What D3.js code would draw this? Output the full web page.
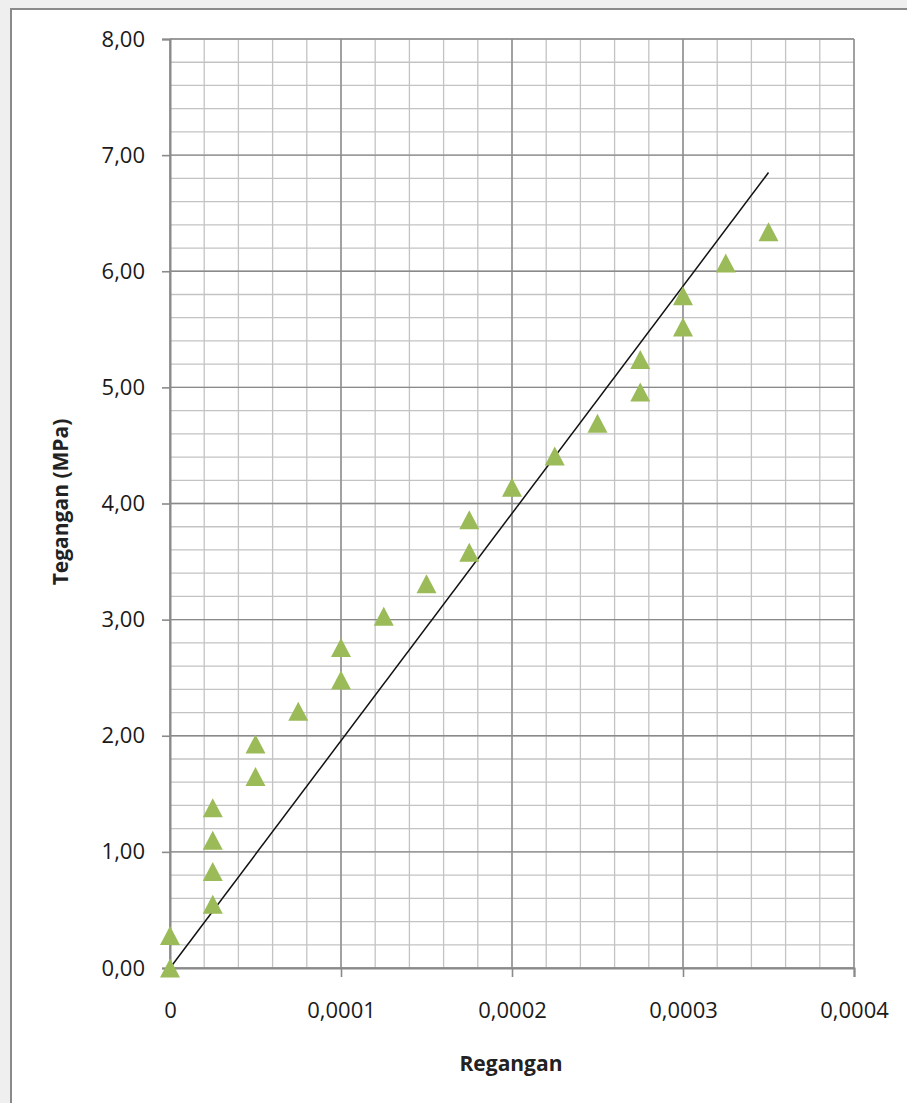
<!DOCTYPE html>
<html>
<head>
<meta charset="utf-8">
<script src="https://cdn.jsdelivr.net/npm/d3@7/dist/d3.min.js"></script>
<style>
  html, body { margin: 0; padding: 0; background: #efefef; }
  svg { display: block; }
</style>
</head>
<body>
<svg id="chart" width="907" height="1103"></svg>
<script>
// Stress–strain test readings
const strain = [0, 0, 0.000025, 0.000025, 0.000025, 0.000025, 0.00005, 0.00005,
  0.000075, 0.0001, 0.0001, 0.000125, 0.00015, 0.000175, 0.000175, 0.0002,
  0.000225, 0.00025, 0.000275, 0.000275, 0.0003, 0.0003, 0.000325, 0.00035];
const stress = [0.00, 0.28, 0.55, 0.83, 1.10, 1.38, 1.65, 1.93,
  2.21, 2.48, 2.76, 3.03, 3.31, 3.58, 3.86, 4.14,
  4.41, 4.69, 4.96, 5.24, 5.52, 5.79, 6.07, 6.34];

// Linear fit through the origin
const fitStrain = [0, 0.00035];
const fitStress = [0, 6.85];

const xTicks = [0, 0.0001, 0.0002, 0.0003, 0.0004];
const xTickLabels = ["0", "0,0001", "0,0002", "0,0003", "0,0004"];
const yTicks = [0, 1, 2, 3, 4, 5, 6, 7, 8];
const yTickLabels = ["0,00", "1,00", "2,00", "3,00", "4,00", "5,00", "6,00", "7,00", "8,00"];
const xMinor = d3.range(0, 21).map(i => i * 0.00002);
const yMinor = d3.range(0, 41).map(i => i * 0.2);

const xTitle = "Regangan";
const yTitle = "Tegangan (MPa)";

const svg = d3.select("#chart");

// chart frame
svg.append("rect").attr("x", 11).attr("y", 9).attr("width", 907).attr("height", 1103)
  .attr("fill", "#ffffff").attr("stroke", "#8a8a8a").attr("stroke-width", 2);

const plotL = 170, plotR = 854, plotT = 39, plotB = 968;
const x = d3.scaleLinear().domain([0, 0.0004]).range([plotL, plotR]);
const y = d3.scaleLinear().domain([0, 8]).range([plotB, plotT]);

const font = "'Open Sans', 'DejaVu Sans', sans-serif";

// minor grid
const g = svg.append("g");
g.selectAll("line.vmin").data(xMinor).join("line").attr("class", "vmin")
  .attr("x1", d => x(d)).attr("x2", d => x(d)).attr("y1", plotT).attr("y2", plotB)
  .attr("stroke", "#c3c3c3").attr("stroke-width", 1.3);
g.selectAll("line.hmin").data(yMinor).join("line").attr("class", "hmin")
  .attr("y1", d => y(d)).attr("y2", d => y(d)).attr("x1", plotL).attr("x2", plotR)
  .attr("stroke", "#c3c3c3").attr("stroke-width", 1.3);

// major grid
g.selectAll("line.vmaj").data(xTicks).join("line").attr("class", "vmaj")
  .attr("x1", d => x(d)).attr("x2", d => x(d)).attr("y1", plotT).attr("y2", plotB)
  .attr("stroke", "#8a8a8a").attr("stroke-width", 1.4);
g.selectAll("line.hmaj").data(yTicks).join("line").attr("class", "hmaj")
  .attr("y1", d => y(d)).attr("y2", d => y(d)).attr("x1", plotL).attr("x2", plotR)
  .attr("stroke", "#8a8a8a").attr("stroke-width", 1.4);

// axes
const xAxis = d3.axisBottom(x).tickValues(xTicks)
  .tickFormat((d, i) => xTickLabels[i]).tickSize(9).tickPadding(25);
const yAxis = d3.axisLeft(y).tickValues(yTicks)
  .tickFormat((d, i) => yTickLabels[i]).tickSize(8).tickPadding(17);

const gx = svg.append("g").attr("transform", `translate(0,${plotB})`).call(xAxis);
const gy = svg.append("g").attr("transform", `translate(${plotL},0)`).call(yAxis);
[gx, gy].forEach(a => {
  a.select(".domain").attr("stroke", "#8a8a8a").attr("stroke-width", 2);
  a.selectAll(".tick line").attr("stroke", "#8a8a8a").attr("stroke-width", 1.6);
  a.selectAll(".tick text").attr("fill", "#1a1a1a").style("font-family", font).style("font-size", "22px");
});

// fit line
svg.append("line")
  .attr("x1", x(fitStrain[0])).attr("y1", y(fitStress[0]))
  .attr("x2", x(fitStrain[1])).attr("y2", y(fitStress[1]))
  .attr("stroke", "#111").attr("stroke-width", 1.5);

// triangle markers, centred on their bounding box
const boxTriangle = {
  draw(ctx) {
    ctx.moveTo(0, -9.5);
    ctx.lineTo(10, 9.5);
    ctx.lineTo(-10, 9.5);
    ctx.closePath();
  }
};
const tri = d3.symbol().type(boxTriangle);
svg.append("g").selectAll("path").data(strain.map((s, i) => [s, stress[i]])).join("path")
  .attr("d", tri)
  .attr("transform", d => `translate(${x(d[0])},${y(d[1])})`)
  .attr("fill", "#9bbb59");

// axis titles
svg.append("text").attr("x", 511).attr("y", 1071).attr("text-anchor", "middle")
  .style("font-family", font).style("font-size", "21px").style("font-weight", "bold")
  .attr("fill", "#222").text(xTitle);
svg.append("text").attr("transform", "translate(68,502) rotate(-90)").attr("text-anchor", "middle")
  .style("font-family", font).style("font-size", "21px").style("font-weight", "bold")
  .attr("fill", "#222").text(yTitle);
</script>
</body>
</html>
